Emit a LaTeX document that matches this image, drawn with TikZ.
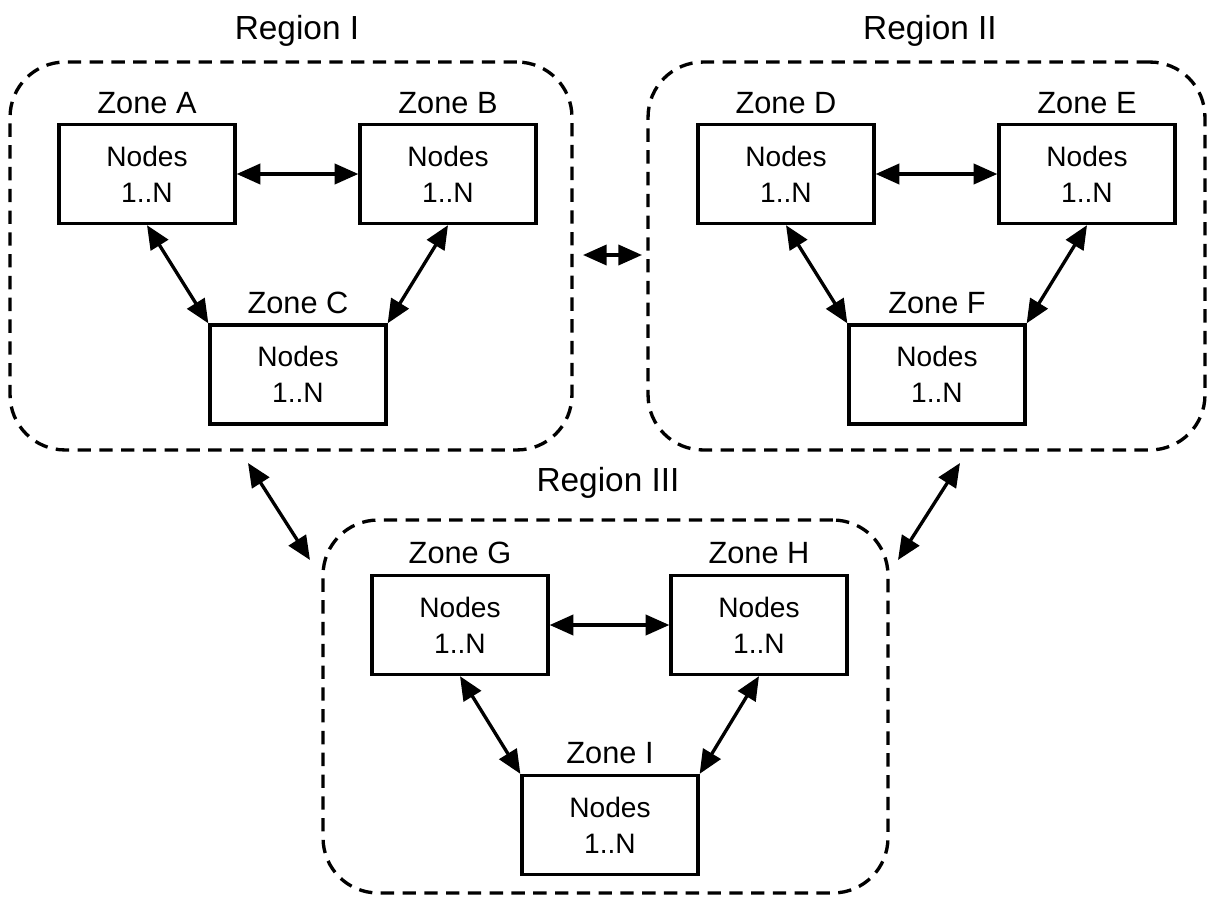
\documentclass[tikz,border=0pt]{standalone}
\usepackage{fontspec}
\setmainfont{Liberation Sans}
\usetikzlibrary{arrows.meta,calc}
\begin{document}
\begin{tikzpicture}[x=0.02cm,y=-0.02cm,
  zonebox/.style={draw,line width=1.9pt,minimum width=3.52cm,minimum height=1.98cm,align=center,font=\fontsize{16}{20.4}\selectfont,inner sep=0pt},
  region/.style={draw,line width=1.9pt,dash pattern=on 7.6pt off 4.8pt,rounded corners=1.1cm,inner sep=0pt},
  zonelab/.style={anchor=base,font=\fontsize{17.5}{20}\selectfont,inner sep=0pt},
  reglab/.style={anchor=base,font=\fontsize{19}{22}\selectfont,inner sep=0pt},
  link/.style={line width=1.9pt,{Triangle[length=13.5pt,width=11.5pt]}-{Triangle[length=13.5pt,width=11.5pt]}}
]
\useasboundingbox (0,0) rectangle (1207,899);

% regions
\node[region,minimum width=11.24cm,minimum height=7.76cm] (R1) at (291,256) {};
\node[region,minimum width=11.14cm,minimum height=7.76cm] (R2) at (926.5,256) {};
\node[region,minimum width=11.30cm,minimum height=7.46cm] (R3) at (605.5,706.5) {};

\node[reglab] (L1) at (297,39) {Region I};
\node[reglab] (L2) at (930,39) {Region II};
\node[reglab] (L3) at (608,491) {Region III};

% zone boxes
\node[zonebox] (A) at (147,174) {Nodes\\1..N};
\node[zonebox] (B) at (448,174) {Nodes\\1..N};
\node[zonebox] (C) at (298,374.5) {Nodes\\1..N};
\node[zonebox] (D) at (786,174) {Nodes\\1..N};
\node[zonebox] (E) at (1087,174) {Nodes\\1..N};
\node[zonebox] (F) at (937,374.5) {Nodes\\1..N};
\node[zonebox] (G) at (460,625) {Nodes\\1..N};
\node[zonebox] (H) at (759,625) {Nodes\\1..N};
\node[zonebox] (I) at (610,825) {Nodes\\1..N};

% zone labels
\node[zonelab] (lA) at (147,113) {Zone A};
\node[zonelab] (lB) at (448,113) {Zone B};
\node[zonelab] (lC) at (298,313) {Zone C};
\node[zonelab] (lD) at (786,113) {Zone D};
\node[zonelab] (lE) at (1087,113) {Zone E};
\node[zonelab] (lF) at (937,313) {Zone F};
\node[zonelab] (lG) at (460,563) {Zone G};
\node[zonelab] (lH) at (759,563) {Zone H};
\node[zonelab] (lI) at (610,763) {Zone I};

% zone links
\draw[link] (A.east) -- (B.west);
\draw[link] (A.south) -- (C.north west);
\draw[link] (B.south) -- (C.north east);
\draw[link] (D.east) -- (E.west);
\draw[link] (D.south) -- (F.north west);
\draw[link] (E.south) -- (F.north east);
\draw[link] (G.east) -- (H.west);
\draw[link] (G.south) -- (I.north west);
\draw[link] (H.south) -- (I.north east);

% region links
\coordinate (p12a) at (583,255);
\coordinate (p12b) at (642,255);
\coordinate (p13a) at (248,463);
\coordinate (p13b) at (310,560);
\coordinate (p23a) at (960,463);
\coordinate (p23b) at (898,560);
\draw[link] (p12a) -- (p12b);
\draw[link] (p13a) -- (p13b);
\draw[link] (p23a) -- (p23b);
\end{tikzpicture}
\end{document}
